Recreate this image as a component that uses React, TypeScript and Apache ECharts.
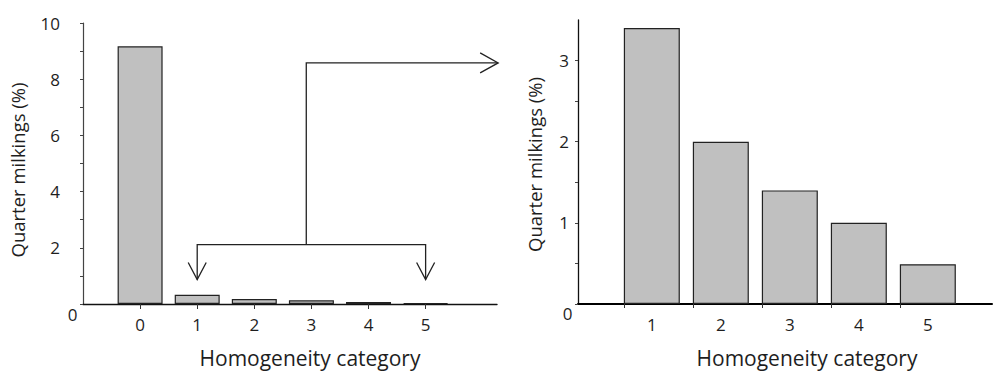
import React, { useEffect, useRef } from 'react';
import * as echarts from 'echarts';

// ---- data ----
const leftCategories = [0, 1, 2, 3, 4, 5];
const leftValues = [9.17, 0.33, 0.18, 0.13, 0.07, 0.035];
const rightCategories = [1, 2, 3, 4, 5];
const rightValues = [3.4, 2.0, 1.4, 1.0, 0.49];

const leftYTickValues = [0, 1, 2, 3, 4, 5, 6, 7, 8, 9, 10];
const leftYLabelValues = [2, 4, 6, 8, 10];
const rightYTickValues = [0, 0.5, 1, 1.5, 2, 2.5, 3];
const rightYLabelValues = [1, 2, 3];

const xTitle = 'Homogeneity category';
const yTitle = 'Quarter milkings (%)';

// annotation (in left-chart data coordinates)
const bracketFromX = 1;
const bracketToX = 5;
const bracketY = 2.11;
const arrowTipY = 0.87;
const stemX = 2.91;
const stemTopY = 8.58;
const arrowEndX = 6.27;

const FONT = 'Open Sans';
const TEXT = '#1e1e1e';
const LINE = '#222';

export default function App() {
  const ref = useRef<HTMLDivElement>(null);

  useEffect(() => {
    if (!ref.current) return;
    const chart = echarts.init(ref.current, undefined, { renderer: 'svg' });

    const labelStyle = { fontSize: 17, color: TEXT, fontFamily: FONT };

    chart.setOption({
      animation: false,
      grid: [
        { left: 83, right: 497, top: 23, bottom: 69 },
        { left: 578, right: 2, top: 20, bottom: 68 },
      ],
      xAxis: [
        {
          gridIndex: 0,
          type: 'value',
          min: -1,
          max: 6.25,
          splitLine: { show: false },
          axisLine: { show: true, onZero: false, lineStyle: { color: '#111', width: 1.4 } },
          axisTick: { show: true, customValues: leftCategories, length: 5, lineStyle: { color: '#333', width: 1 } },
          axisLabel: { customValues: leftCategories, margin: 12, ...labelStyle },
          name: xTitle,
          nameLocation: 'middle',
          nameGap: 43,
          nameTextStyle: { fontSize: 21, color: TEXT, fontFamily: FONT, padding: [0, 0, 0, 40] },
        },
        {
          gridIndex: 1,
          type: 'value',
          min: -0.07,
          max: 5.93,
          splitLine: { show: false },
          axisLine: { show: true, onZero: false, lineStyle: { color: '#000', width: 2 } },
          axisTick: {
            show: true,
            customValues: rightCategories.map((c) => c - 0.405),
            length: 4,
            lineStyle: { color: '#333', width: 1 },
          },
          axisLabel: { customValues: rightCategories, margin: 12, ...labelStyle },
          name: xTitle,
          nameLocation: 'middle',
          nameGap: 43,
          nameTextStyle: { fontSize: 21, color: TEXT, fontFamily: FONT, padding: [0, 0, 0, 44] },
        },
      ],
      yAxis: [
        {
          gridIndex: 0,
          type: 'value',
          min: 0,
          max: 10,
          splitLine: { show: false },
          axisLine: { show: true, onZero: false, lineStyle: { color: '#444', width: 1.2 } },
          axisTick: { show: true, customValues: leftYTickValues, length: 3, lineStyle: { color: '#444', width: 1 } },
          axisLabel: { customValues: leftYLabelValues, margin: 23, padding: [0, 0, 8, 0], ...labelStyle },
          name: yTitle,
          nameLocation: 'middle',
          nameGap: 56,
          nameTextStyle: { fontSize: 18.5, color: TEXT, fontFamily: FONT, padding: [0, 13, 0, 0] },
        },
        {
          gridIndex: 1,
          type: 'value',
          min: 0,
          max: 3.5,
          splitLine: { show: false },
          axisLine: { show: true, onZero: false, lineStyle: { color: '#111', width: 1.3 } },
          axisTick: { show: true, customValues: rightYTickValues, length: 3, lineStyle: { color: '#444', width: 1 } },
          axisLabel: { customValues: rightYLabelValues, margin: 9, padding: [0, 0, 6, 0], ...labelStyle },
          name: yTitle,
          nameLocation: 'middle',
          nameGap: 34,
          nameTextStyle: { fontSize: 18.5, color: TEXT, fontFamily: FONT, padding: [0, 5, 0, 0] },
        },
      ],
      series: [
        {
          type: 'bar',
          xAxisIndex: 0,
          yAxisIndex: 0,
          barWidth: 45,
          data: leftCategories.map((c, i) => [c, leftValues[i]]),
          itemStyle: { color: '#c0c0c0', borderColor: '#222', borderWidth: 1.2 },
        },
        {
          type: 'bar',
          xAxisIndex: 1,
          yAxisIndex: 1,
          barWidth: 56,
          data: rightCategories.map((c, i) => [c, rightValues[i]]),
          itemStyle: { color: '#c0c0c0', borderColor: '#222', borderWidth: 1.2 },
        },
      ],
    });

    const P = (x: number, y: number) =>
      chart.convertToPixel({ xAxisIndex: 0, yAxisIndex: 0 }, [x, y]) as number[];
    const P2 = (x: number, y: number) =>
      chart.convertToPixel({ xAxisIndex: 1, yAxisIndex: 1 }, [x, y]) as number[];

    const lineStyle = { stroke: LINE, lineWidth: 1.3, fill: null };
    const tipL = P(bracketFromX, arrowTipY);
    const tipR = P(bracketToX, arrowTipY);
    const end = P(arrowEndX, stemTopY);
    const o1 = P(-1, 0);
    const o2 = P2(-0.07, 0);

    chart.setOption({
      graphic: [
        {
          type: 'polyline',
          shape: { points: [tipL, P(bracketFromX, bracketY), P(bracketToX, bracketY), tipR] },
          style: lineStyle,
        },
        {
          type: 'polyline',
          shape: { points: [P(stemX, bracketY), P(stemX, stemTopY), end] },
          style: lineStyle,
        },
        {
          type: 'polyline',
          shape: { points: [[tipL[0] - 9, tipL[1] - 17], tipL, [tipL[0] + 9, tipL[1] - 17]] },
          style: lineStyle,
        },
        {
          type: 'polyline',
          shape: { points: [[tipR[0] - 9, tipR[1] - 17], tipR, [tipR[0] + 9, tipR[1] - 17]] },
          style: lineStyle,
        },
        {
          type: 'polyline',
          shape: { points: [[end[0] - 18, end[1] - 10], end, [end[0] - 18, end[1] + 10]] },
          style: lineStyle,
        },
        {
          type: 'text',
          x: o1[0] - 10.5,
          y: o1[1] + 10,
          style: { text: '0', fontSize: 17, fill: TEXT, fontFamily: FONT, align: 'center', verticalAlign: 'middle' },
        },
        {
          type: 'text',
          x: o2[0] - 10.5,
          y: o2[1] + 9,
          style: { text: '0', fontSize: 17, fill: TEXT, fontFamily: FONT, align: 'center', verticalAlign: 'middle' },
        },
      ],
    });

    return () => chart.dispose();
  }, []);

  return (
    <div
      ref={ref}
      style={{ position: 'fixed', left: 0, top: 0, width: 994, height: 373, background: '#fff' }}
    />
  );
}
